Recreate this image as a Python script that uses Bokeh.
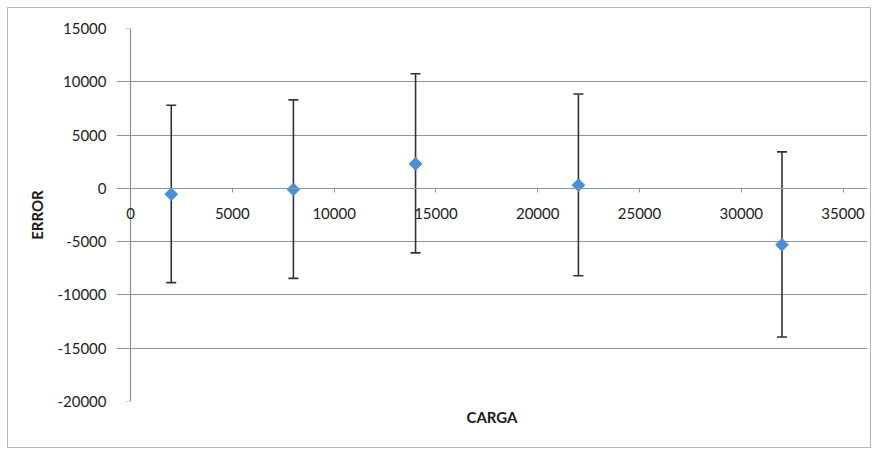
import numpy as np
from bokeh.plotting import figure
from bokeh.core.properties import value
from bokeh.models import (ColumnDataSource, Range1d, FixedTicker, Whisker,
                          TeeHead, Title, LinearAxis, LabelSet)
from bokeh.embed import file_html
from bokeh.resources import INLINE

# data
carga = [2000, 8000, 14000, 22000, 32000]
error = [-550, -100, 2300, 300, -5300]
upper = [7800, 8300, 10750, 8850, 3420]
lower = [-8850, -8450, -6050, -8200, -13950]

x_tick_values = [0, 5000, 10000, 15000, 20000, 25000, 30000, 35000]
x_tick_labels = ["0", "5000", "10000", "15000", "20000", "25000", "30000", "35000"]
y_tick_values = [-20000, -15000, -10000, -5000, 0, 5000, 10000, 15000]
y_tick_labels = ["-20000", "-15000", "-10000", "-5000", "0", "5000", "10000", "15000"]

FONT = "Lato"
GRID = "#8499a8"
TXT = "#222222"

src = ColumnDataSource(dict(x=carga, y=error, upper=upper, lower=lower))
tick_src = ColumnDataSource(dict(x=x_tick_values, y=[0] * len(x_tick_values),
                                 text=x_tick_labels))

p = figure(width=864, height=441, output_backend="svg", toolbar_location=None,
           x_range=Range1d(-690, 36200), y_range=Range1d(-20000, 15000),
           min_border_left=108, min_border_right=5, min_border_top=20,
           min_border_bottom=48, x_axis_location=None)
p.styles = {"border": "1px solid #b8b8b8", "margin-left": "7px", "margin-top": "7px"}
p.outline_line_color = None
p.background_fill_color = "white"
p.border_fill_color = "white"

# horizontal gridlines
p.xgrid.grid_line_color = None
p.ygrid.ticker = FixedTicker(ticks=y_tick_values)
p.ygrid.grid_line_color = GRID
p.ygrid.grid_line_width = 1.2
p.ygrid.bounds = (0, x_tick_values[-1])

# left axis: only tick labels and title
ya = p.yaxis[0]
ya.ticker = FixedTicker(ticks=y_tick_values)
ya.major_label_overrides = {v: s for v, s in zip(y_tick_values, y_tick_labels)}
ya.axis_line_color = None
ya.major_tick_line_color = None
ya.minor_tick_line_color = None
ya.major_label_text_font = FONT
ya.major_label_text_font_size = "15px"
ya.major_label_text_color = TXT
ya.major_label_standoff = 4
ya.axis_label = "ERROR"
ya.axis_label_text_font = FONT
ya.axis_label_text_font_size = "15px"
ya.axis_label_text_font_style = "bold"
ya.axis_label_text_color = "#1a1a1a"
ya.axis_label_standoff = 8

# vertical value-axis line at x = 0, with outside tick marks
ya0 = LinearAxis(fixed_location=0, ticker=FixedTicker(ticks=y_tick_values),
                 bounds=(y_tick_values[0], y_tick_values[-1]))
ya0.axis_line_color = "#8c8c8c"
ya0.axis_line_width = 1.2
ya0.major_tick_line_color = GRID
ya0.major_tick_line_width = 1.2
ya0.major_tick_out = 5
ya0.major_tick_in = 0
ya0.minor_tick_line_color = None
ya0.major_label_text_font_size = "0px"
ya0.major_label_text_color = None
p.add_layout(ya0, "left")

# category axis crossing at y = 0
xa = LinearAxis(ticker=FixedTicker(ticks=x_tick_values), fixed_location=0,
                bounds=(x_tick_values[0], x_tick_values[-1]))
xa.axis_line_color = GRID
xa.axis_line_width = 1.2
xa.major_tick_line_color = GRID
xa.major_tick_out = 4
xa.major_tick_in = 0
xa.minor_tick_line_color = None
xa.major_label_text_font_size = "0px"
xa.major_label_text_color = None
p.add_layout(xa, "below")

p.add_layout(LabelSet(x="x", y="y", text="text", source=tick_src, y_offset=-25,
                      text_align="center", text_baseline="middle",
                      text_font=value(FONT), text_font_size="15px", text_color=TXT))

p.add_layout(Title(text="CARGA", align="center", text_font=FONT, text_font_size="15px",
                   text_font_style="bold", text_color="#1a1a1a", standoff=8,
                   offset=0), "below")

w = Whisker(base="x", upper="upper", lower="lower", source=src,
            line_color="#333333", line_width=1.6,
            upper_head=TeeHead(size=10, line_color="#333333", line_width=1.6),
            lower_head=TeeHead(size=10, line_color="#333333", line_width=1.6))
p.add_layout(w)

p.scatter("x", "y", source=src, marker="square", size=9, angle=np.pi / 4,
          fill_color="#4a8fdc", line_color="#4a8fdc")

open("out.html", "w").write(file_html(p, INLINE))
